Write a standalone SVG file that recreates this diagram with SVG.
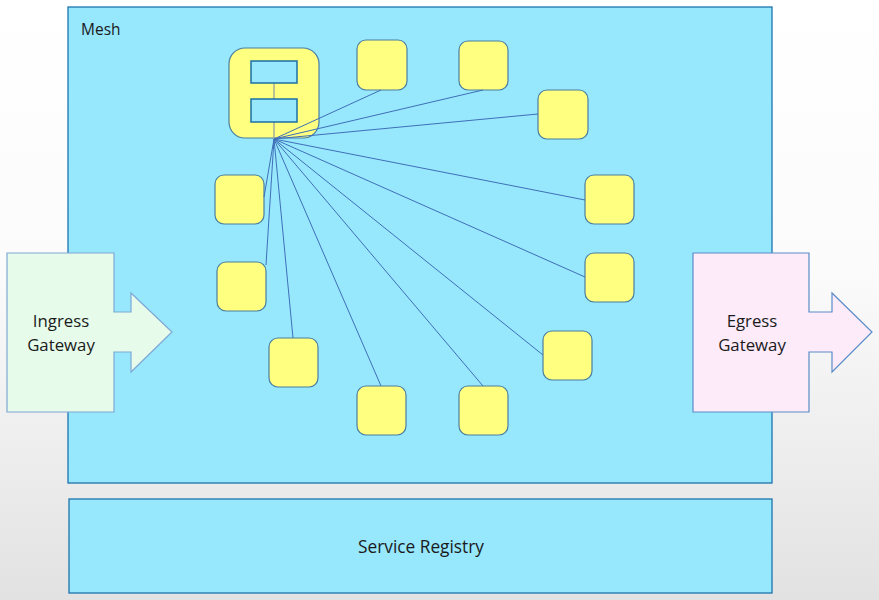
<svg xmlns="http://www.w3.org/2000/svg" width="879" height="600" viewBox="0 0 879 600">
<defs>
<linearGradient id="bg" x1="0" y1="0" x2="0" y2="1">
<stop offset="0" stop-color="#ffffff"/>
<stop offset="0.45" stop-color="#fbfbfb"/>
<stop offset="1" stop-color="#e2e2e2"/>
</linearGradient>
<style>
.box{fill:#97e7fd;stroke:#1d74ad;stroke-width:1.3}
.svc{fill:#ffff80;stroke:#4c7fa0;stroke-width:1.2}
.inner{fill:#97e7fd;stroke:#1d6fa5;stroke-width:1.5}
.link{stroke:#3f6fb8;stroke-width:1;fill:none}
.t{font-family:"Open Sans","Liberation Sans",sans-serif;fill:#1a1a1a}
</style>
</defs>
<rect width="879" height="600" fill="url(#bg)"/>
<g id="mesh">
<rect class="box" x="68" y="7" width="704" height="476"/>
<text class="t" x="81" y="35" font-size="15.5">Mesh</text>
</g>
<g id="registry">
<rect class="box" x="69" y="499" width="703" height="94"/>
<text class="t" x="421" y="553" font-size="17.3" text-anchor="middle">Service Registry</text>
</g>
<g id="ingress">
<path d="M7,253 H114 V312 H131 V293 L172,332 L131,372 V352 H114 V412 H7 Z" fill="#e6fbea" stroke="#7ea8d6" stroke-width="1.2"/>
<text class="t" x="61" y="327" font-size="16.8" text-anchor="middle">Ingress</text>
<text class="t" x="61" y="351" font-size="16.8" text-anchor="middle">Gateway</text>
</g>
<g id="egress">
<path d="M693,253 H809 V312 H832 V293 L872,332 L832,372 V352 H809 V412 H693 Z" fill="#fdebfa" stroke="#5a8cc6" stroke-width="1.2"/>
<text class="t" x="752" y="327" font-size="16.8" text-anchor="middle">Egress</text>
<text class="t" x="752" y="351" font-size="16.8" text-anchor="middle">Gateway</text>
</g>
<g id="hub">
<rect class="svc" x="229" y="48" width="90" height="90" rx="16"/>
<line x1="274" y1="83" x2="274" y2="99" stroke="#8a9aa0" stroke-width="1.2"/>
<line x1="274" y1="122" x2="274" y2="139" stroke="#8a9aa0" stroke-width="1.2"/>
<rect class="inner" x="251" y="61" width="46" height="22"/>
<rect class="inner" x="251" y="99" width="46" height="23"/>
</g>
<g id="svc1"><rect class="svc" x="357" y="40" width="50" height="50" rx="9"/></g>
<g id="svc2"><rect class="svc" x="459" y="41" width="49" height="49" rx="9"/></g>
<g id="svc3"><rect class="svc" x="538" y="90" width="50" height="49" rx="9"/></g>
<g id="svc4"><rect class="svc" x="585" y="175" width="49" height="49" rx="9"/></g>
<g id="svc5"><rect class="svc" x="585" y="253" width="49" height="49" rx="9"/></g>
<g id="svc6"><rect class="svc" x="543" y="331" width="49" height="49" rx="9"/></g>
<g id="svc7"><rect class="svc" x="459" y="386" width="49" height="49" rx="9"/></g>
<g id="svc8"><rect class="svc" x="357" y="386" width="49" height="49" rx="9"/></g>
<g id="svc9"><rect class="svc" x="269" y="338" width="49" height="49" rx="9"/></g>
<g id="svc10"><rect class="svc" x="217" y="262" width="49" height="49" rx="9"/></g>
<g id="svc11"><rect class="svc" x="215" y="175" width="49" height="49" rx="9"/></g>
<g id="connectors">
<line class="link" x1="274" y1="139" x2="381" y2="90"/>
<line class="link" x1="274" y1="139" x2="483" y2="90"/>
<line class="link" x1="274" y1="139" x2="538" y2="114"/>
<line class="link" x1="274" y1="139" x2="585" y2="200"/>
<line class="link" x1="274" y1="139" x2="585" y2="277"/>
<line class="link" x1="274" y1="139" x2="543" y2="355"/>
<line class="link" x1="274" y1="139" x2="483" y2="386"/>
<line class="link" x1="274" y1="139" x2="381" y2="386"/>
<line class="link" x1="274" y1="139" x2="293" y2="338"/>
<line class="link" x1="274" y1="139" x2="266" y2="265"/>
<line class="link" x1="274" y1="139" x2="264" y2="197"/>
</g>
</svg>
